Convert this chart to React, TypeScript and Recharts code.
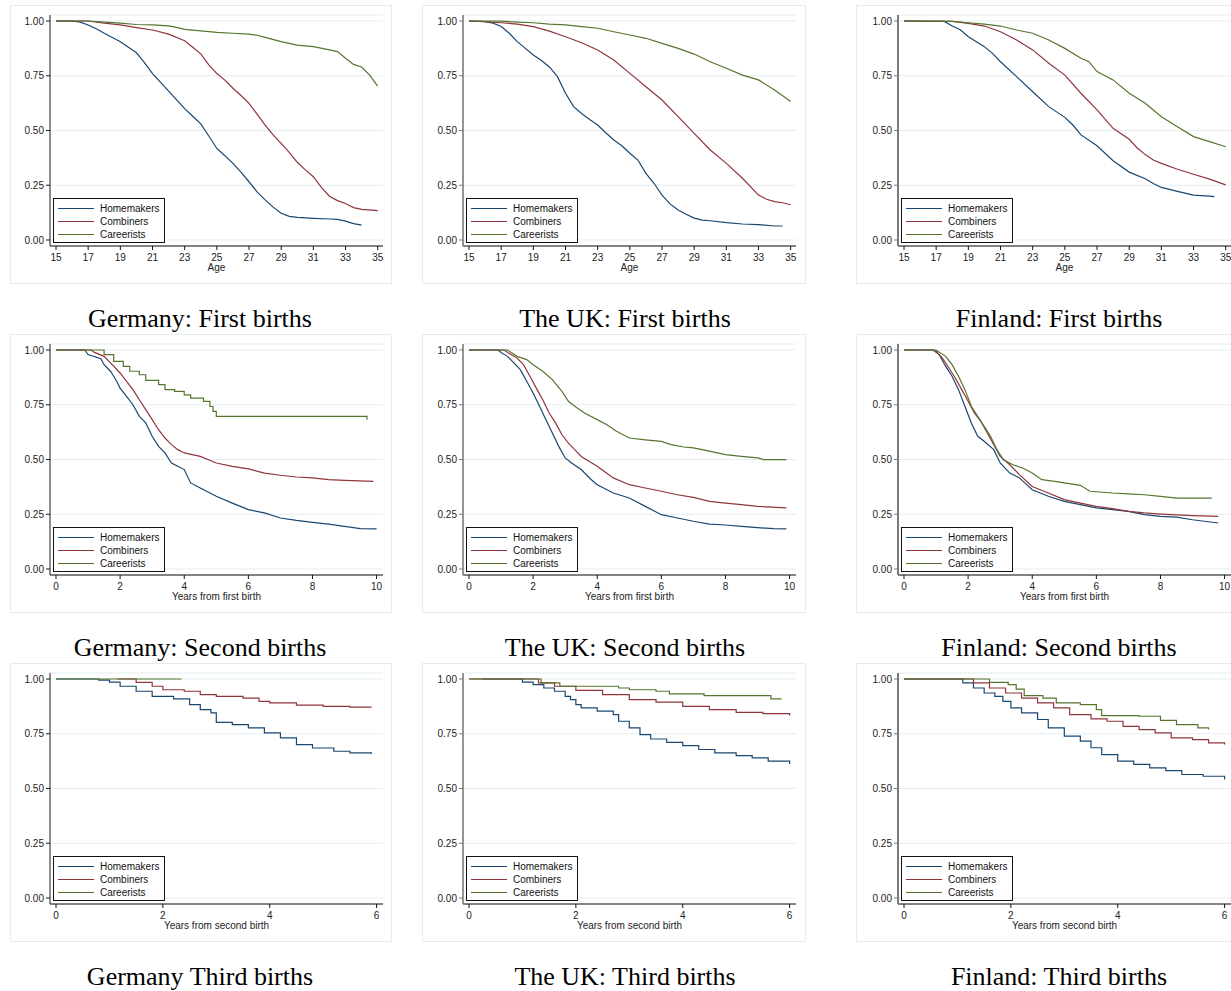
import React from 'react';
import { LineChart, Line, XAxis, YAxis, CartesianGrid, Legend } from 'recharts';

// ---------- labels / ticks ----------
const seriesNames = ['Homemakers', 'Combiners', 'Careerists'];
const seriesColors = ['#1a476f', '#90353b', '#55752f'];
const yTicks = [0, 0.25, 0.5, 0.75, 1];
const ageTicks = [15, 17, 19, 21, 23, 25, 27, 29, 31, 33, 35];
const firstBirthTicks = [0, 2, 4, 6, 8, 10];
const secondBirthTicks = [0, 2, 4, 6];
const rowTitles = [
  ['Germany: First births', 'The UK: First births', 'Finland: First births'],
  ['Germany: Second births', 'The UK: Second births', 'Finland: Second births'],
  ['Germany Third births', 'The UK: Third births', 'Finland: Third births'],
];
const xLabels = ['Age', 'Years from first birth', 'Years from second birth'];

// ---------- data: [time, survival] ----------
// Row 1: first births (age)
const deFirstHome = [[15,1],[16,1],[16.5,0.995],[17,0.982],[17.5,0.965],[18,0.944],[18.5,0.925],[19,0.905],[19.5,0.88],[20,0.855],[20.5,0.81],[21,0.76],[21.5,0.72],[22,0.68],[22.5,0.64],[23,0.6],[23.5,0.565],[24,0.53],[24.5,0.475],[25,0.418],[25.5,0.385],[26,0.35],[26.5,0.31],[27,0.266],[27.5,0.22],[28,0.183],[28.5,0.15],[29,0.122],[29.5,0.108],[30,0.103],[31,0.099],[32,0.096],[32.5,0.094],[33,0.086],[33.5,0.075],[34,0.068]];
const deFirstComb = [[15,1],[17,1],[18,0.99],[19,0.982],[20,0.97],[21,0.959],[22,0.94],[23,0.91],[23.5,0.88],[24,0.85],[24.5,0.8],[25,0.76],[25.5,0.73],[26,0.693],[26.5,0.66],[27,0.624],[27.5,0.575],[28,0.525],[28.5,0.48],[29,0.441],[29.5,0.4],[30,0.355],[30.5,0.32],[31,0.289],[31.5,0.24],[32,0.2],[32.5,0.18],[33,0.167],[33.5,0.148],[34,0.14],[35,0.134]];
const deFirstCar = [[15,1],[17,1],[18,0.995],[19,0.99],[20,0.984],[21,0.982],[22,0.978],[22.5,0.971],[23,0.962],[24,0.955],[25,0.948],[26,0.944],[27,0.94],[27.5,0.935],[28,0.925],[29,0.906],[30,0.89],[31,0.883],[32,0.868],[32.5,0.86],[33,0.83],[33.5,0.802],[34,0.79],[34.5,0.753],[35,0.703]];

const ukFirstHome = [[15,1],[16,0.997],[16.5,0.99],[17,0.975],[17.5,0.944],[18,0.906],[18.5,0.875],[19,0.845],[19.5,0.82],[20,0.79],[20.5,0.746],[21,0.67],[21.5,0.609],[22,0.578],[22.5,0.55],[23,0.525],[23.5,0.49],[24,0.457],[24.5,0.43],[25,0.396],[25.5,0.365],[26,0.304],[26.5,0.259],[27,0.205],[27.5,0.165],[28,0.137],[28.5,0.118],[29,0.1],[29.5,0.091],[30,0.088],[31,0.079],[32,0.073],[33,0.07],[34,0.064],[34.5,0.064]];
const ukFirstComb = [[15,1],[16,0.997],[17,0.992],[18,0.986],[19,0.974],[20,0.954],[21,0.928],[22,0.901],[23,0.868],[24,0.822],[25,0.761],[26,0.7],[27,0.639],[28,0.563],[29,0.487],[30,0.411],[31,0.35],[32,0.282],[33,0.205],[33.5,0.186],[34,0.175],[34.5,0.17],[35,0.161]];
const ukFirstCar = [[15,1],[17,0.999],[18,0.995],[19,0.992],[20,0.986],[21,0.982],[22,0.974],[23,0.967],[24,0.951],[25,0.936],[26,0.921],[27,0.898],[28,0.875],[29,0.849],[30,0.814],[31,0.784],[32,0.753],[33,0.731],[34,0.685],[35,0.632]];

const fiFirstHome = [[15,1],[17.5,0.998],[18,0.977],[18.5,0.96],[19,0.928],[20,0.883],[20.5,0.852],[21,0.814],[22,0.746],[23,0.677],[24,0.609],[25,0.56],[25.5,0.525],[26,0.48],[27,0.43],[28,0.362],[29,0.31],[30,0.28],[30.5,0.258],[31,0.24],[32,0.222],[33,0.205],[34,0.2],[34.3,0.198]];
const fiFirstComb = [[15,1],[18,0.998],[19,0.989],[20,0.977],[21,0.951],[22,0.913],[23,0.868],[24,0.807],[25,0.753],[26,0.67],[27,0.594],[28,0.51],[29,0.46],[29.5,0.42],[30,0.39],[30.5,0.365],[31,0.35],[32,0.323],[33,0.3],[34,0.278],[35,0.252]];
const fiFirstCar = [[15,1],[18,0.998],[19,0.992],[20,0.986],[21,0.977],[22,0.959],[23,0.944],[24,0.913],[25,0.875],[26,0.83],[26.5,0.814],[27,0.769],[28,0.731],[29,0.67],[30,0.624],[31,0.563],[32,0.517],[33,0.472],[34,0.449],[35,0.426]];

// Row 2: second births (years from first birth)
const deSecondHome = [[0,1],[0.9,1],[1.0,0.979],[1.4,0.96],[1.5,0.933],[1.7,0.903],[1.8,0.88],[1.9,0.855],[2.0,0.826],[2.2,0.788],[2.4,0.75],[2.6,0.697],[2.8,0.667],[3.0,0.606],[3.2,0.56],[3.4,0.53],[3.6,0.484],[3.8,0.469],[4.0,0.454],[4.2,0.393],[4.5,0.37],[5.0,0.332],[5.5,0.301],[6.0,0.271],[6.5,0.256],[7.0,0.233],[7.5,0.222],[8.0,0.213],[8.5,0.205],[9.0,0.195],[9.5,0.184],[10,0.183]];
const deSecondComb = [[0,1],[1.1,1],[1.2,0.989],[1.5,0.971],[1.7,0.941],[2.0,0.895],[2.2,0.857],[2.4,0.819],[2.6,0.773],[2.8,0.728],[3.0,0.682],[3.2,0.636],[3.4,0.598],[3.6,0.568],[3.8,0.545],[4.0,0.53],[4.5,0.514],[5.0,0.484],[5.5,0.469],[6.0,0.457],[6.5,0.438],[7.0,0.428],[7.5,0.42],[8.0,0.416],[8.5,0.408],[9.0,0.405],[9.9,0.4]];
const deSecondCar = [[0,1],[1.4,1],[1.5,0.979],[1.8,0.948],[2.1,0.925],[2.3,0.903],[2.6,0.887],[2.8,0.861],[3.2,0.842],[3.4,0.819],[3.7,0.811],[4.0,0.795],[4.2,0.78],[4.6,0.765],[4.8,0.742],[4.9,0.72],[5.0,0.697],[9.7,0.697],[9.7,0.682]];

const ukSecondHome = [[0,1],[0.9,1],[1.0,0.989],[1.2,0.971],[1.4,0.941],[1.6,0.91],[1.8,0.857],[2.0,0.804],[2.2,0.743],[2.4,0.682],[2.6,0.621],[2.8,0.56],[3.0,0.507],[3.2,0.484],[3.5,0.454],[3.8,0.41],[4.0,0.385],[4.5,0.347],[5.0,0.324],[5.5,0.286],[6.0,0.248],[6.5,0.233],[7.0,0.218],[7.5,0.205],[8.0,0.201],[8.5,0.195],[9.0,0.189],[9.5,0.184],[9.9,0.183]];
const ukSecondComb = [[0,1],[1.1,1],[1.2,0.989],[1.5,0.963],[1.7,0.933],[1.9,0.88],[2.1,0.826],[2.3,0.773],[2.5,0.712],[2.7,0.667],[2.9,0.613],[3.1,0.575],[3.3,0.545],[3.5,0.514],[4.0,0.469],[4.5,0.416],[5.0,0.385],[5.5,0.37],[6.0,0.355],[6.5,0.339],[7.0,0.327],[7.5,0.309],[8.0,0.301],[8.5,0.294],[9.0,0.286],[9.9,0.279]];
const ukSecondCar = [[0,1],[1.2,1],[1.5,0.971],[1.8,0.956],[2.0,0.933],[2.3,0.903],[2.6,0.865],[2.9,0.811],[3.1,0.766],[3.3,0.743],[3.6,0.712],[4.0,0.682],[4.3,0.659],[4.6,0.629],[5.0,0.598],[5.5,0.59],[6.0,0.583],[6.3,0.568],[6.7,0.557],[7.0,0.553],[7.5,0.538],[8.0,0.522],[8.5,0.514],[9.0,0.507],[9.2,0.499],[9.9,0.499]];

const fiSecondHome = [[0,1],[0.9,1],[1.1,0.979],[1.3,0.925],[1.5,0.88],[1.7,0.819],[1.9,0.743],[2.1,0.667],[2.3,0.606],[2.5,0.583],[2.8,0.545],[3.0,0.484],[3.3,0.438],[3.6,0.416],[4.0,0.362],[4.5,0.332],[5.0,0.309],[5.5,0.294],[6.0,0.279],[6.5,0.271],[7.0,0.263],[7.5,0.248],[8.0,0.24],[8.5,0.237],[9.0,0.225],[9.8,0.21]];
const fiSecondComb = [[0,1],[0.9,1],[1.0,0.994],[1.2,0.963],[1.4,0.918],[1.6,0.872],[1.8,0.819],[2.0,0.766],[2.2,0.712],[2.4,0.674],[2.6,0.621],[2.8,0.568],[3.0,0.514],[3.3,0.476],[3.6,0.431],[4.0,0.377],[4.5,0.347],[5.0,0.317],[5.5,0.301],[6.0,0.286],[6.5,0.276],[7.0,0.263],[7.5,0.256],[8.0,0.251],[8.5,0.247],[9.0,0.244],[9.8,0.24]];
const fiSecondCar = [[0,1],[1.0,1],[1.3,0.971],[1.5,0.933],[1.7,0.88],[1.9,0.819],[2.1,0.743],[2.3,0.697],[2.5,0.651],[2.7,0.606],[2.9,0.545],[3.1,0.499],[3.4,0.476],[3.7,0.461],[4.0,0.438],[4.3,0.408],[4.7,0.4],[5.0,0.393],[5.5,0.382],[5.8,0.355],[6.5,0.347],[7.0,0.343],[7.5,0.339],[8.0,0.332],[8.5,0.324],[9.6,0.324]];

// Row 3: third births (years from second birth)
const deThirdHome = [[0,1],[0.65,1],[0.8,0.995],[1.0,0.986],[1.2,0.967],[1.5,0.944],[1.8,0.921],[2.2,0.909],[2.5,0.883],[2.7,0.86],[2.9,0.845],[3.0,0.802],[3.3,0.792],[3.6,0.777],[3.9,0.754],[4.2,0.731],[4.5,0.7],[4.8,0.685],[5.2,0.67],[5.5,0.663],[5.9,0.658]];
const deThirdComb = [[1.15,1],[1.5,0.985],[1.8,0.967],[2.0,0.951],[2.4,0.944],[2.7,0.929],[3.0,0.921],[3.5,0.913],[3.8,0.898],[4.0,0.891],[4.5,0.881],[5.0,0.875],[5.5,0.872],[5.9,0.871]];
const deThirdCar = [[0,1],[2.35,1]];

const ukThirdHome = [[0.25,1],[0.8,1],[1.0,0.986],[1.2,0.974],[1.4,0.959],[1.6,0.944],[1.8,0.921],[1.9,0.906],[2.0,0.883],[2.1,0.868],[2.4,0.853],[2.7,0.837],[2.8,0.807],[3.0,0.777],[3.2,0.746],[3.4,0.726],[3.7,0.711],[4.0,0.696],[4.3,0.678],[4.6,0.663],[5.0,0.65],[5.3,0.64],[5.6,0.625],[6.0,0.612]];
const ukThirdComb = [[0,1],[1.0,1],[1.3,0.982],[1.6,0.967],[2.0,0.948],[2.5,0.929],[3.0,0.906],[3.5,0.894],[4.0,0.875],[4.5,0.86],[5.0,0.848],[5.5,0.842],[6.0,0.833]];
const ukThirdCar = [[0,1],[1.1,1],[1.35,0.982],[1.7,0.967],[2.8,0.959],[3.0,0.951],[3.5,0.944],[3.75,0.932],[4.4,0.924],[5.65,0.909],[5.85,0.909]];

const fiThirdHome = [[0,1],[0.9,1],[1.1,0.982],[1.3,0.959],[1.5,0.936],[1.7,0.921],[1.85,0.898],[2.0,0.868],[2.2,0.845],[2.5,0.815],[2.7,0.777],[3.0,0.739],[3.3,0.716],[3.5,0.686],[3.7,0.655],[4.0,0.625],[4.3,0.61],[4.6,0.594],[4.9,0.582],[5.2,0.564],[5.6,0.556],[6.0,0.541]];
const fiThirdComb = [[0,1],[1.1,1],[1.3,0.982],[1.6,0.959],[1.9,0.936],[2.2,0.913],[2.5,0.891],[2.8,0.868],[3.1,0.837],[3.5,0.818],[3.8,0.807],[4.1,0.784],[4.4,0.769],[4.7,0.754],[5.0,0.731],[5.4,0.723],[5.7,0.708],[6.0,0.701]];
const fiThirdCar = [[0,1],[1.4,1],[1.6,0.985],[1.95,0.974],[2.1,0.954],[2.25,0.924],[2.6,0.913],[2.85,0.891],[3.3,0.883],[3.6,0.86],[3.7,0.833],[4.4,0.83],[4.8,0.811],[5.1,0.792],[5.5,0.777],[5.7,0.769]];

const gridData = [
  [[deFirstHome, deFirstComb, deFirstCar], [ukFirstHome, ukFirstComb, ukFirstCar], [fiFirstHome, fiFirstComb, fiFirstCar]],
  [[deSecondHome, deSecondComb, deSecondCar], [ukSecondHome, ukSecondComb, ukSecondCar], [fiSecondHome, fiSecondComb, fiSecondCar]],
  [[deThirdHome, deThirdComb, deThirdCar], [ukThirdHome, ukThirdComb, ukThirdCar], [fiThirdHome, fiThirdComb, fiThirdCar]],
];

// curve style per panel and series
const L = 'linear';
const S = 'stepAfter';
const gridCurves = [
  [[L, L, L], [L, L, L], [L, L, L]],
  [[L, L, S], [L, L, L], [L, L, L]],
  [[S, S, S], [S, S, S], [S, S, S]],
];

// ---------- layout ----------
const rowXTicks = [ageTicks, firstBirthTicks, secondBirthTicks];
const rowXDomains: [number, number][] = [[14.626, 35.33], [-0.187, 10.2], [-0.1125, 6.12]];
const rowTops = [5, 334, 663];
const frameLefts = [10, 422, 856];
const chartLefts = [10, 423, 858];
const frameWidths = [382, 384, 384];
const titleCenters = [200, 625, 1059];
const titleBaselines = [327.3, 656.7, 985.7];
const axisColors = ['#1a1a1a', '#7a7a7a', '#7a7a7a'];
const axisWidths = [1, 1.6, 2];

const CH_W = 382;
const CH_H = 279;

const sansFont = '"Liberation Sans", Arial, Helvetica, sans-serif';
const serifFont = '"Liberation Serif", "Times New Roman", Times, serif';

function LegendBox() {
  return (
    <div style={{ width: 112, height: 45, border: '1px solid #111', background: '#fff', boxSizing: 'border-box', position: 'relative', fontFamily: sansFont, fontSize: 10, color: '#111' }}>
      {seriesNames.map((n, i) => (
        <div key={n} style={{ position: 'absolute', left: 0, top: 3 + i * 13, height: 13, display: 'flex', alignItems: 'center', whiteSpace: 'nowrap' }}>
          <div style={{ marginLeft: 4, width: 36, height: 0, borderTop: `1.2px solid ${seriesColors[i]}` }} />
          <span style={{ marginLeft: 6, lineHeight: '13px' }}>{n}</span>
        </div>
      ))}
    </div>
  );
}

function Panel({ row, col }: { row: number; col: number }) {
  const series = gridData[row][col];
  return (
    <div style={{ position: 'absolute', left: chartLefts[col], top: rowTops[row], width: CH_W, height: CH_H, fontFamily: sansFont }}>
      <LineChart width={CH_W} height={CH_H} margin={{ top: 10, right: 9, bottom: 8, left: 0 }}>
        <CartesianGrid horizontal={true} vertical={false} stroke="#e4edf0" strokeWidth={1} />
        <XAxis
          type="number"
          dataKey="t"
          domain={rowXDomains[row]}
          allowDataOverflow
          ticks={rowXTicks[row]}
          interval={0}
          height={30}
          tickSize={4}
          tickMargin={4}
          stroke="#111"
          axisLine={{ stroke: '#111', strokeWidth: 1.2 }}
          tickLine={{ stroke: '#111' }}
          tick={{ fill: '#222', fontSize: 10 }}
          label={{ value: xLabels[row], position: 'insideBottom', offset: 5.5, fill: '#222', fontSize: 10 }}
        />
        <YAxis
          type="number"
          domain={[-0.0274, 1.0274]}
          allowDataOverflow
          ticks={yTicks}
          interval={0}
          width={40}
          tickSize={4}
          tickMargin={2}
          axisLine={{ stroke: axisColors[col], strokeWidth: axisWidths[col] }}
          tickLine={{ stroke: axisColors[col] }}
          tick={{ fill: '#222', fontSize: 10 }}
          tickFormatter={(v: number) => v.toFixed(2)}
        />
        <Legend
          layout="vertical"
          align="center"
          verticalAlign="middle"
          width={112}
          height={45}
          wrapperStyle={{ left: 43, top: 193, width: 112, height: 45 }}
          content={() => <LegendBox />}
        />
        {series.map((pts, i) => (
          <Line
            key={seriesNames[i]}
            name={seriesNames[i]}
            data={pts.map(([t, s]) => ({ t, s }))}
            dataKey="s"
            type={gridCurves[row][col][i] as any}
            stroke={seriesColors[i]}
            strokeWidth={1.2}
            dot={false}
            activeDot={false}
            isAnimationActive={false}
          />
        ))}
      </LineChart>
    </div>
  );
}

export default function App() {
  const panels: React.ReactNode[] = [];
  for (let r = 0; r < 3; r++) {
    for (let c = 0; c < 3; c++) {
      panels.push(
        <div key={`f${r}${c}`} style={{ position: 'absolute', left: frameLefts[c], top: rowTops[r], width: frameWidths[c], height: CH_H, border: '1px solid #e3ecef', boxSizing: 'border-box', background: '#fff' }} />
      );
      panels.push(<Panel key={`p${r}${c}`} row={r} col={c} />);
      panels.push(
        <div key={`t${r}${c}`} style={{ position: 'absolute', left: titleCenters[c] - 200, width: 400, top: titleBaselines[r] - 21.8, height: 26, lineHeight: '26px', fontSize: 26, fontFamily: serifFont, color: '#000', textAlign: 'center', whiteSpace: 'nowrap' }}>
          {rowTitles[r][c]}
        </div>
      );
    }
  }
  return (
    <div style={{ position: 'absolute', left: 0, top: 0, width: 1231, height: 991, overflow: 'hidden', background: '#fff' }}>
      {panels}
    </div>
  );
}
